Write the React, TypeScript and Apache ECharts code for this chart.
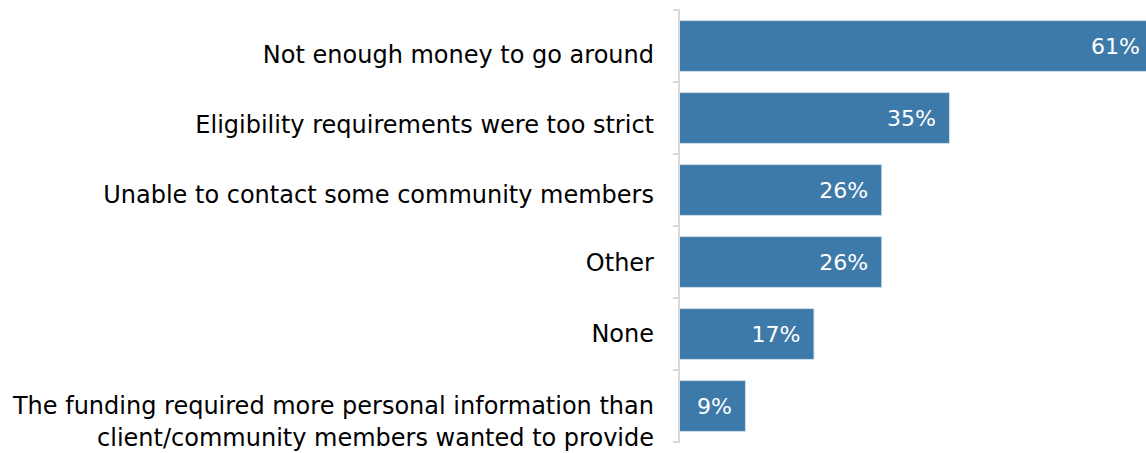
import React, { useEffect, useRef } from "react";
import * as echarts from "echarts";

const categories = [
  "Not enough money to go around",
  "Eligibility requirements were too strict",
  "Unable to contact some community members",
  "Other",
  "None",
  "The funding required more personal information than\nclient/community members wanted to provide",
];
const values = [61, 34.8, 26.1, 26.1, 17.4, 8.6];

const FONT = '"DejaVu Sans", Verdana, sans-serif';

export default function App() {
  const ref = useRef<HTMLDivElement>(null);
  useEffect(() => {
    if (!ref.current) return;
    const chart = echarts.init(ref.current, undefined, { renderer: "svg" });
    const shifts = [18, 14, 10, 2, 0];
    const rich: any = {};
    shifts.forEach((p, i) => {
      rich["s" + i] = { fontSize: 24, fontFamily: FONT, color: "#000", padding: [p, 0, 0, 0] };
    });
    rich.a = { fontSize: 24, fontFamily: FONT, color: "#000", padding: [32, 0, 0, 0] };
    rich.b = { fontSize: 24, fontFamily: FONT, color: "#000", padding: [8, 0, 0, 0] };
    chart.setOption({
      animation: false,
      grid: { left: 679, right: 0, top: 10, bottom: 11, containLabel: false },
      xAxis: {
        type: "value",
        min: 0,
        max: 61,
        show: false,
      },
      yAxis: {
        type: "category",
        data: categories,
        inverse: true,
        axisLine: { show: true, lineStyle: { color: "#d9d9d9", width: 2 } },
        axisTick: { show: true, length: 6, lineStyle: { color: "#d9d9d9", width: 2 } },
        axisLabel: {
          margin: 25,
          align: "right",
          fontSize: 24,
          fontFamily: FONT,
          color: "#000",
          formatter: (v: string, i: number) => {
            if (v.indexOf("\n") >= 0) {
              const [l1, l2] = v.split("\n");
              return `{a|${l1}}\n{b|${l2}}`;
            }
            return `{s${i}|${v}}`;
          },
          rich,
        },
        splitLine: { show: false },
      },
      series: [
        {
          type: "bar",
          data: values,
          barCategoryGap: "28%",
          itemStyle: { color: "#3e7aa9", borderColor: "#cfdfec", borderWidth: 1 },
          label: {
            show: true,
            position: "insideRight",
            distance: 14,
            color: "#fff",
            fontSize: 22,
            fontFamily: FONT,
            formatter: (p: any) => Math.round(p.value) + "%",
          },
        },
      ],
    });
    return () => chart.dispose();
  }, []);
  return (
    <div
      style={{ position: "absolute", left: 0, top: 0, width: 1146, height: 453, overflow: "hidden", background: "#fff" }}
    >
      <div ref={ref} style={{ width: 1154, height: 453 }} />
    </div>
  );
}
